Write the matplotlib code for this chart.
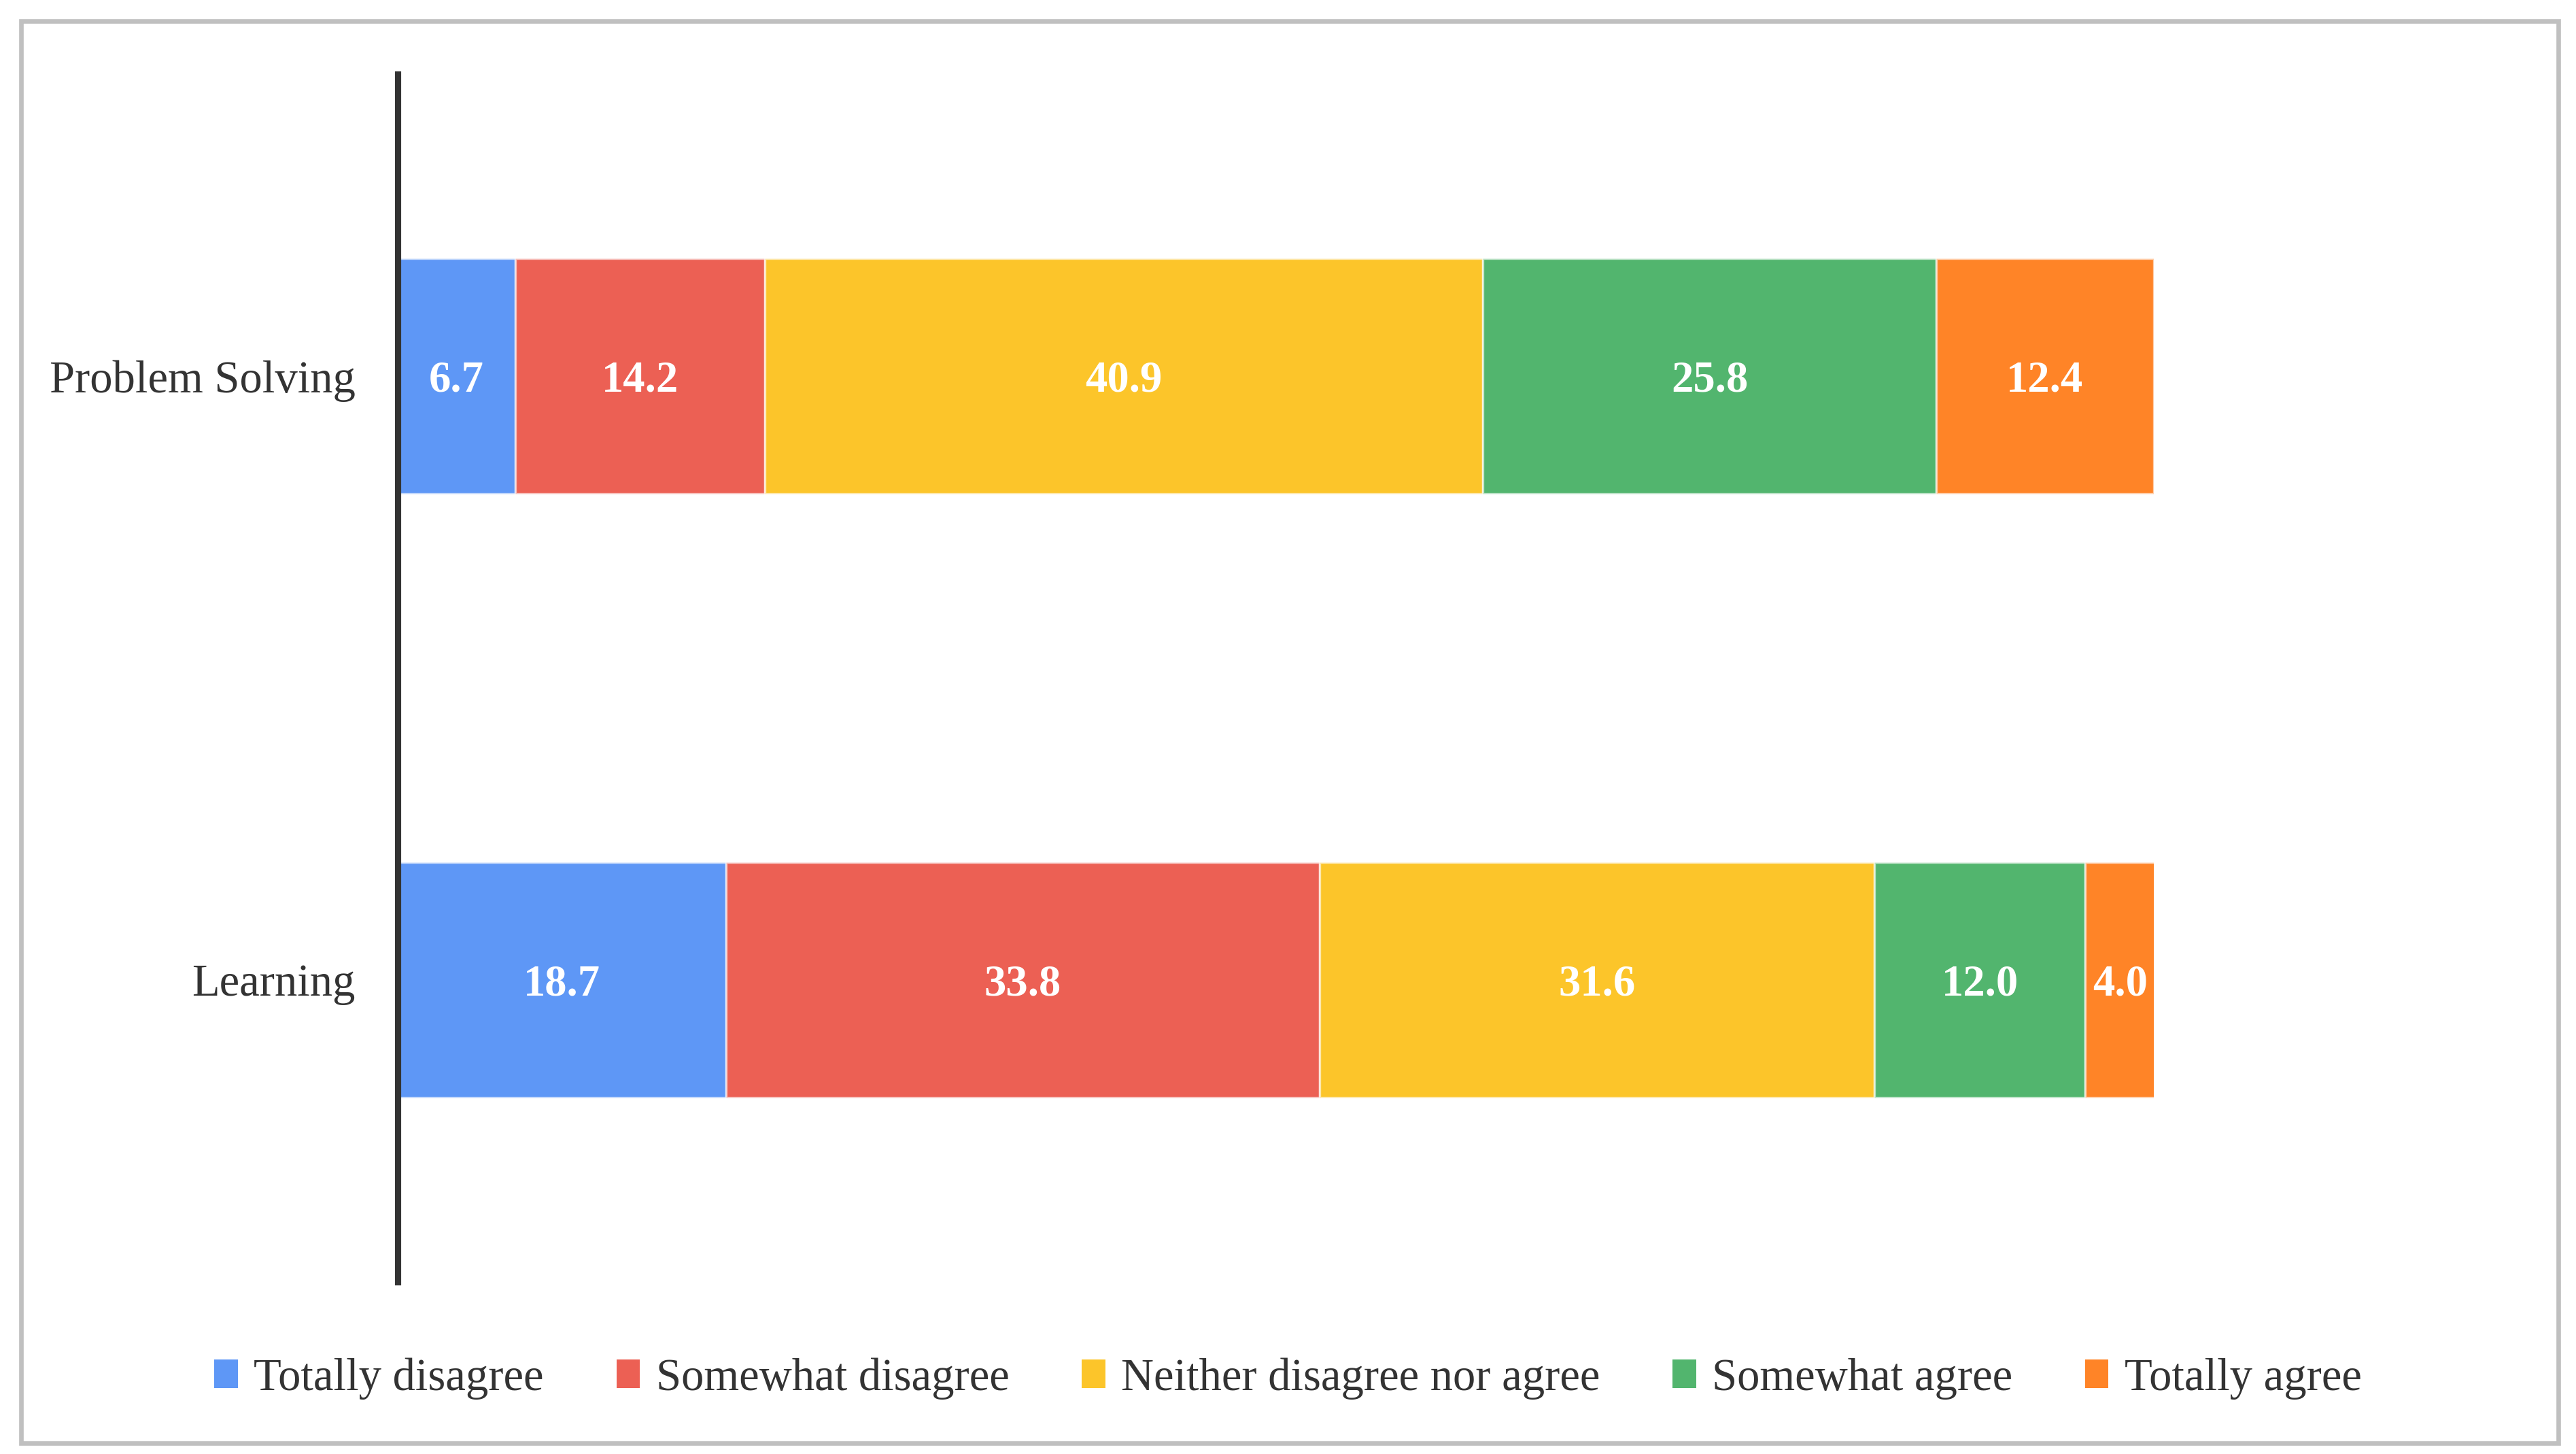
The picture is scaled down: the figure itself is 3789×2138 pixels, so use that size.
import matplotlib
matplotlib.use("Agg")
import matplotlib.pyplot as plt
from matplotlib.patches import Rectangle
import numpy as np

categories = ["Learning", "Problem Solving"]
series_names = ["Totally disagree", "Somewhat disagree", "Neither disagree nor agree",
                "Somewhat agree", "Totally agree"]
totally_disagree = [18.7, 6.7]
somewhat_disagree = [33.8, 14.2]
neither = [31.6, 40.9]
somewhat_agree = [12.0, 25.8]
totally_agree = [4.0, 12.4]
colors = ["#5E97F6", "#EC6054", "#FCC52A", "#52B56E", "#FF8427"]

series = [totally_disagree, somewhat_disagree, neither, somewhat_agree, totally_agree]

plt.rcParams['font.family'] = ['Liberation Serif', 'DejaVu Serif']

W, H = 3789, 2138
dpi = 300
fig = plt.figure(figsize=(W / dpi, H / dpi), dpi=dpi)
fig.patch.set_facecolor("white")

# outer border
fig.add_artist(Rectangle((31 / W, 1 - 2122 / H), (3763 - 31) / W, (2122 - 31) / H,
                         transform=fig.transFigure, fill=False,
                         edgecolor="#C0C0C0", linewidth=1.6))

ax = fig.add_axes([585 / W, 1 - 1885 / H, (3168 - 585) / W, (1885 - 109) / H])
y = np.arange(len(categories))
left = np.zeros(len(categories))
for name, vals, c in zip(series_names, series, colors):
    vals = np.array(vals)
    ax.barh(y, vals, left=left, height=0.39, color=c, label=name,
            edgecolor=(1, 1, 1, 0.6), linewidth=0.8)
    for yi, (l, v) in enumerate(zip(left, vals)):
        ax.text(l + v / 2, yi, f"{v:.1f}", ha="center", va="center_baseline",
                color="white", fontsize=15.5, fontweight="bold")
    left = left + vals

ax.set_xlim(0, 100)
ax.set_ylim(-0.5, 1.5)
ax.set_yticks(y)
ax.set_yticklabels(categories, fontsize=16, color="#333333")
ax.tick_params(axis="y", length=0, pad=15)
ax.set_xticks([])
for s in ["top", "right", "bottom"]:
    ax.spines[s].set_visible(False)
ax.spines["left"].set_color("#333333")
ax.spines["left"].set_linewidth(2.2)

handles, labels = ax.get_legend_handles_labels()
leg = fig.legend(handles, labels, loc="center", bbox_to_anchor=(0.5, 1 - 2027 / H),
                 ncol=5, frameon=False, fontsize=16, handlelength=0.52,
                 handleheight=0.58, handletextpad=0.35, columnspacing=1.6)
for t in leg.get_texts():
    t.set_color("#333333")
for p in leg.get_patches():
    p.set_linewidth(0)

fig.savefig("out.png", dpi=dpi, facecolor="white")
